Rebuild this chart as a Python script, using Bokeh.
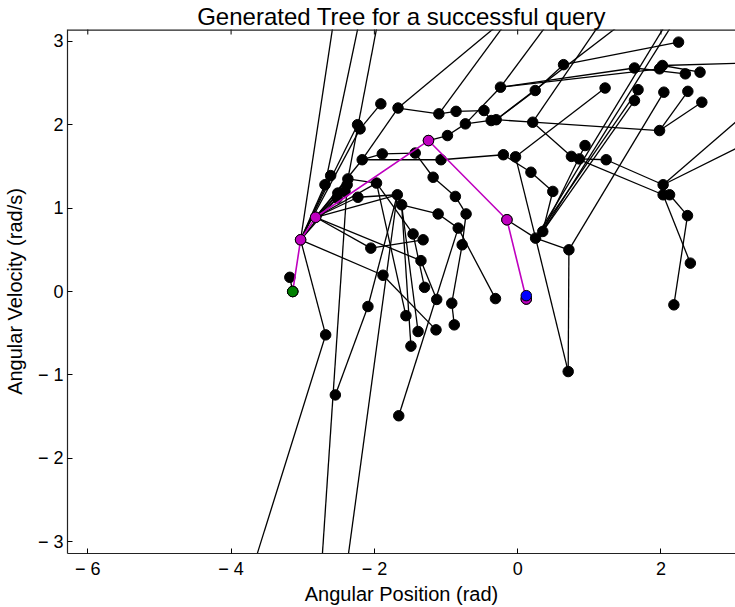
import numpy as np
from bokeh.plotting import figure
from bokeh.models import Range1d, FixedTicker, CustomJSTickFormatter, Span
from bokeh.embed import file_html
from bokeh.resources import INLINE

# ---------------- data ----------------
title_text = "Generated Tree for a successful query"
x_label = "Angular Position (rad)"
y_label = "Angular Velocity (rad/s)"
x_ticks = [-6, -4, -2, 0, 2]
y_ticks = [-3, -2, -1, 0, 1, 2, 3]

node_x = [-3.14, -3.03, -2.82, -1.245, -0.15, 0.12, -3.18, -2.68, -2.545, -1.91,
          -1.67, -2.235, -2.20, -1.10, -0.86, -0.47, -0.37, -0.30, -0.24, -0.73,
          -0.98, -2.17, -1.89, -1.43, -1.07, -1.18, -0.20, -2.61, -2.69, -2.37,
          -2.38, -2.51, -2.41, -2.52, -2.23, -1.97, -1.68, -1.62, -1.11, -0.87,
          -0.72, -2.05, -1.46, -1.32, -1.35, -1.88, -1.30, -0.83, -0.775, -1.13,
          -0.92, -0.31, -2.09, -1.56, -1.39, -1.14, -0.885, -1.49, -1.66, 0.25,
          0.35, 0.49, 2.245, 1.63, 2.02, 1.98, 2.34, 2.545, 0.64, 0.245,
          1.22, 1.68, 2.04, 2.375, 2.57, 1.63, 0.21, 1.98, 0.94, -0.03,
          0.75, 0.86, 1.235, 0.185, 2.03, 2.03, 2.12, 2.37, 2.41, 2.18,
          0.715, 0.705,
          # nodes outside the visible window
          -2.26, -1.78, -1.56, -4.31, -2.87, -2.655, 2.25, 3.34, 3.47, 3.5,
          3.5, 3.6, 1.36, 2.57, 4.17, 1.97]
node_y = [0.00, 0.62, 0.89, 1.81, 0.86, -0.09, 0.17, -0.52, -1.24, 2.25,
          2.20, 2.00, 1.95, 2.13, 2.16, 2.17, 2.05, 2.06, 2.45, 2.01,
          1.87, 1.58, 1.65, 1.66, 1.58, 1.37, 1.64, 1.39, 1.28, 1.35,
          1.28, 1.18, 1.20, 1.12, 1.13, 1.30, 1.16, 1.04, 0.93, 1.14,
          0.93, 0.52, 0.69, 0.62, 0.37, 0.195, 0.05, 0.76, 0.56, -0.095,
          -0.14, -0.085, -0.18, -0.29, -0.48, -0.46, -0.40, -0.655, -1.49, 0.64,
          0.72, 1.20, 2.99, 2.68, 2.71, 2.67, 2.61, 2.63, 2.72, 2.41,
          2.44, 2.42, 2.39, 2.40, 2.27, 2.29, 2.03, 1.93, 1.75, 1.615,
          1.62, 1.59, 1.58, 1.43, 1.28, 1.16, 1.16, 0.91, 0.34, -0.16,
          0.50, -0.96,
          5.0, 5.0, 5.0, -5.0, -5.0, -5.0, 5.0, 5.0, 5.0, 2.37,
          1.91, 2.75, 5.0, 5.0, 5.0, 5.0]

edge_from = [0, 1, 7, 52, 1, 28, 29, 30, 36, 10,
             1, 1, 12, 21, 10, 13, 14, 15, 3, 20,
             19, 17, 69, 68, 18, 18, 65, 63, 64, 64,
             19, 18, 1, 1, 1, 1, 2, 2, 2, 2,
             2, 1, 2, 2, 21, 21, 22, 23, 36, 37,
             38, 25, 39, 40, 48, 50, 2, 41, 35, 42,
             44, 35, 37, 45, 37, 36, 47, 47, 4, 59,
             59, 59, 60, 60, 61, 60, 59, 60, 59, 79,
             24, 26, 76, 76, 80, 81, 82, 80, 85, 86,
             85, 87, 84, 84, 17, 77, 77, 90, 90, 59,
             76, 17, 13, 2, 29, 34]
edge_to = [6, 7, 95, 8, 92, 93, 94, 96, 97, 98,
           11, 12, 9, 10, 13, 14, 15, 16, 20, 19,
           17, 69, 68, 62, 63, 65, 64, 66, 67, 103,
           18, 107, 27, 28, 31, 33, 29, 30, 32, 34,
           21, 45, 44, 36, 22, 24, 23, 25, 37, 38,
           47, 39, 40, 48, 50, 56, 41, 43, 53, 46,
           49, 42, 54, 55, 57, 52, 58, 51, 59, 60,
           91, 99, 100, 61, 83, 75, 71, 78, 79, 70,
           26, 83, 77, 80, 81, 82, 84, 85, 86, 87,
           88, 89, 101, 102, 76, 73, 74, 72, 91, 90,
           105, 106, 104, 35, 35, 36]

path_nodes = [0, 1, 2, 3, 4, 5]
start_node = [0]
goal_x = [0.12]
goal_y = [-0.05]

# ---------------- figure ----------------
X0, X1 = -2 * np.pi, 3.04
Y0, Y1 = -np.pi, np.pi
FONT = "Liberation Sans"

p = figure(width=735, height=607, output_backend="svg", toolbar_location=None,
           x_range=Range1d(X0, X1), y_range=Range1d(Y0, Y1),
           min_border_left=62, min_border_right=0, min_border_top=28, min_border_bottom=52)
p.outline_line_color = None
p.grid.visible = False
p.background_fill_color = "white"
p.border_fill_color = "white"

p.title.text = title_text
p.title.align = "center"
p.title.offset = 3
p.title.standoff = 0
p.title.text_font = FONT
p.title.text_font_size = "24px"
p.title.text_font_style = "normal"
p.title.text_color = "black"

fmt = CustomJSTickFormatter(code="return tick < 0 ? '\u2212 ' + Math.abs(tick) : String(tick);")

for ax, ticks in ((p.xaxis[0], x_ticks), (p.yaxis[0], y_ticks)):
    ax.ticker = FixedTicker(ticks=ticks)
    ax.formatter = fmt
    ax.major_tick_in = 5
    ax.major_tick_out = 0
    ax.minor_tick_line_color = None
    ax.axis_line_color = "#222222"
    ax.axis_line_width = 1.2
    ax.major_tick_line_color = "black"
    ax.major_label_text_font = FONT
    ax.major_label_text_font_size = "18px"
    ax.major_label_text_color = "black"
    ax.axis_label_text_font = FONT
    ax.axis_label_text_font_size = "20px"
    ax.axis_label_text_font_style = "normal"
    ax.axis_label_text_color = "black"

p.xaxis.axis_label = x_label
p.yaxis.axis_label = y_label
p.xaxis.major_label_standoff = 5
p.xaxis.axis_label_standoff = 1
p.yaxis.major_label_standoff = 4
p.yaxis.axis_label_standoff = 9

# top frame line with inward ticks (the right side is outside the picture)
p.add_layout(Span(location=Y1, dimension="width", line_color="#222222", line_width=2.4))
p.scatter(x_ticks, [Y1] * len(x_ticks), marker="dash", angle=np.pi / 2, size=10,
          line_color="black", line_width=1)

# edges
ex0 = [node_x[i] for i in edge_from]
ey0 = [node_y[i] for i in edge_from]
ex1 = [node_x[i] for i in edge_to]
ey1 = [node_y[i] for i in edge_to]
p.segment(ex0, ey0, ex1, ey1, line_color="black", line_width=1.3)

# nodes
p.scatter(node_x, node_y, size=10.5, fill_color="black", line_color="black")

# solution path
px = [node_x[i] for i in path_nodes]
py = [node_y[i] for i in path_nodes]
p.line(px, py, line_color="#bf00bf", line_width=1.6)
p.scatter(px, py, size=10.5, fill_color="#bf00bf", line_color="black", line_width=1)
p.scatter([node_x[i] for i in start_node], [node_y[i] for i in start_node],
          size=10.5, fill_color="#008000", line_color="black", line_width=1)
p.scatter(goal_x, goal_y, size=10.5, fill_color="#0000ff", line_color="black", line_width=1)

open("out.html", "w").write(file_html(p, INLINE))
